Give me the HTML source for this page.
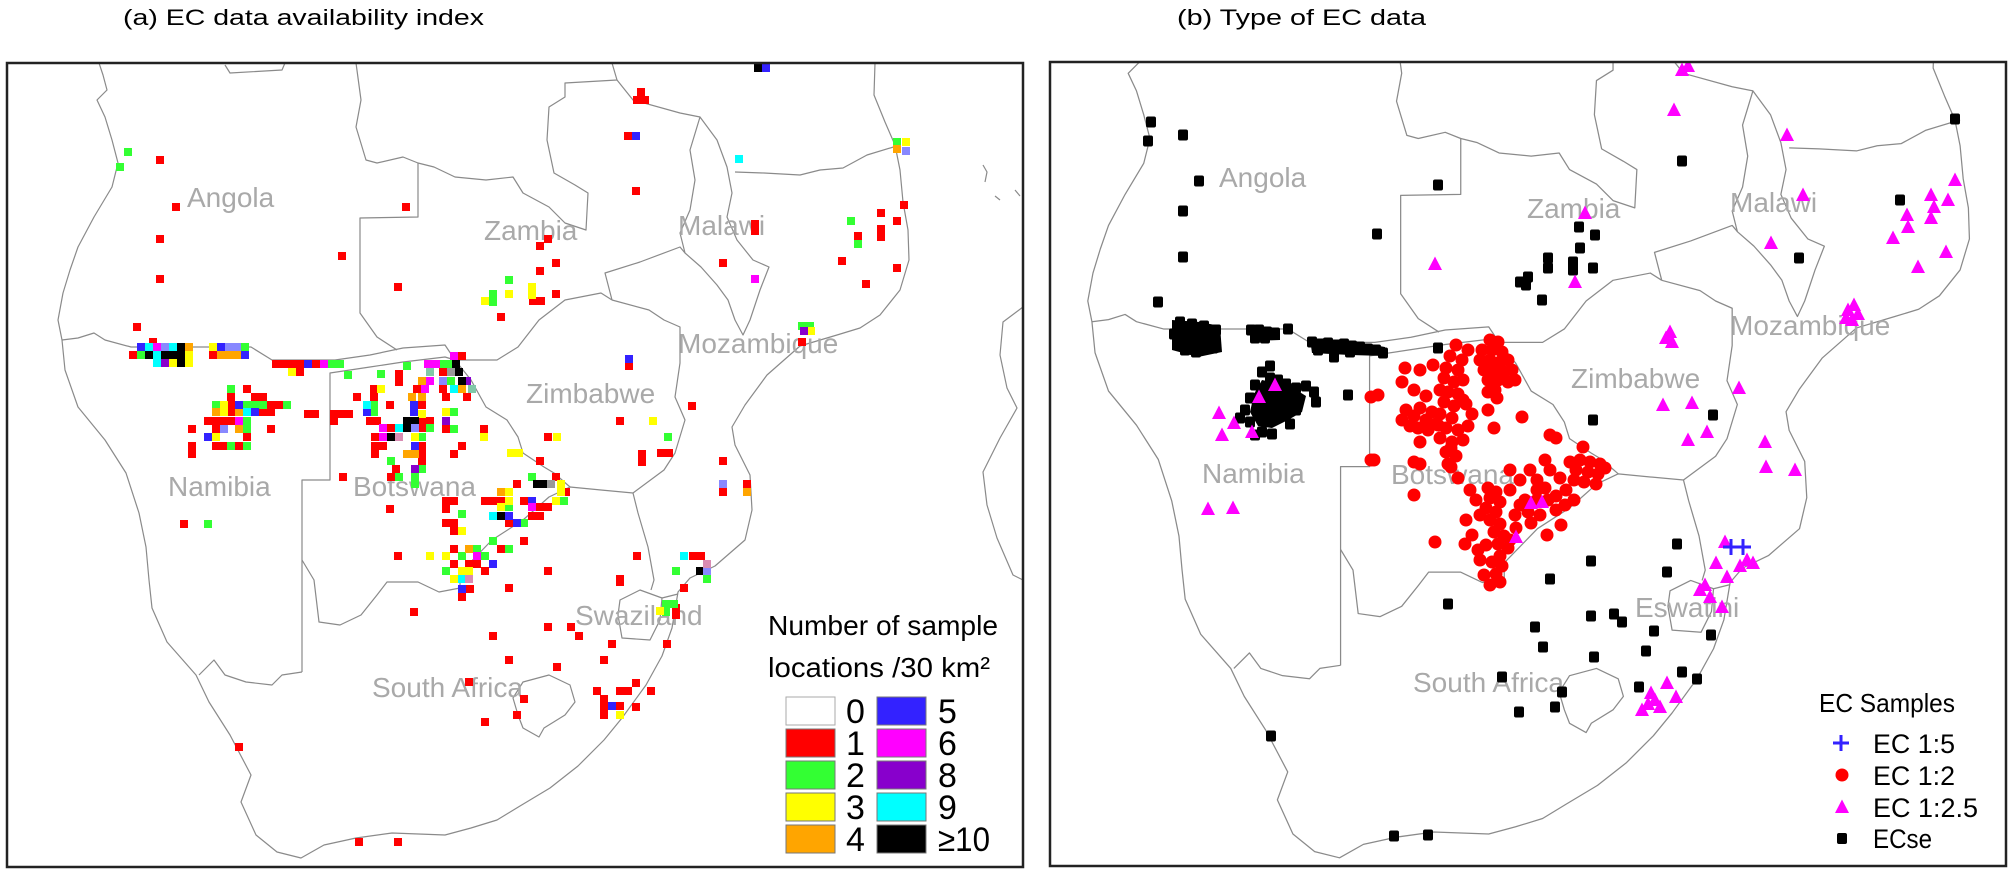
<!DOCTYPE html>
<html><head><meta charset="utf-8"><style>
html,body{margin:0;padding:0;background:#fff;}
svg{display:block;font-family:"Liberation Sans","DejaVu Sans",sans-serif;}
</style></head><body>
<svg xmlns="http://www.w3.org/2000/svg" xmlns:xlink="http://www.w3.org/1999/xlink" width="2010" height="875" viewBox="0 0 2010 875">
<defs>
<clipPath id="cl"><rect x="8" y="64" width="1014" height="802"/></clipPath>
<clipPath id="cr"><rect x="1051" y="63" width="954" height="802"/></clipPath>
<rect id="s" width="8" height="8"/>
<rect id="k" x="-5" y="-5.5" width="10" height="11" rx="2"/>
<path id="t" d="M0,-7.5L7,6L-7,6Z"/>
<g id="map" fill="none" stroke="#8a8a8a" stroke-width="1.2" stroke-linejoin="round">
<polyline points="99,63 103,75 107,90 97,100 105,117 112,140 118,163 112,187 94,217 78,247 70,270 63,293 58,320 62,340 65,370 78,407 105,440 126,473 139,513 146,547 149,580 152,608 167,642 196,675 209,702 230,735 251,775 241,802 256,835 277,852 301,858 324,845 356,838 392,833 445,835 471,828 497,820 520,806 550,788 578,766 604,740 622,718 646,685 662,656 672,628 678,592 690,578 715,566 745,540 752,510 750,475 735,445 732,427 745,405 767,375 800,346 837,335 860,328 880,315 900,290 909,260 908,230 903,202 900,170 895,145 885,122 874,95 875,63"/>
<polyline points="62,340 78,338 94,333 105,340 131,347 251,347 272,360 335,360 370,355 403,348 445,345 455,360"/>
<polyline points="455,360 445,357 403,362 370,367 330,373 330,480 302,480 302,672"/>
<polyline points="302,672 282,675 272,685 246,682 225,675 214,660 199,675"/>
<polyline points="302,560 314,580 319,622 340,625 361,615 377,595 387,582 418,582 439,592 460,588 460,573 492,540 523,520 549,497 570,487 601,490 633,493"/>
<polyline points="455,360 471,380 486,407 507,420 518,437 523,453 544,467 554,473 570,487"/>
<polyline points="455,360 497,360 518,347 539,320 565,300 601,293 612,300"/>
<polyline points="612,300 649,310 664,320 680,327 680,363 675,397 685,420 675,453 664,470 633,493"/>
<polyline points="633,493 638,513 648,547 654,580 651,590"/>
<polygon points="620,600 640,590 662,598 660,620 650,640 622,638 618,615"/>
<polyline points="662,598 678,594"/>
<polygon points="513,698 523,682 549,675 570,685 575,702 565,715 544,728 539,737 523,728 518,715"/>
<polyline points="356,63 361,100 356,127 366,160 377,163 403,157 418,163 418,217 360,218 360,313 377,337 397,350"/>
<polyline points="418,163 434,167 455,177 486,180 513,177 523,193 549,207 565,223 586,230 588,193 575,185 554,173 547,140 549,107 565,97 565,83 617,80 612,63"/>
<polyline points="617,80 633,100 680,113 700,117"/>
<polygon points="700,117 717,140 727,167 732,193 727,217 737,240 753,260 769,267 760,290 750,320 743,335 735,320 728,300 717,285 701,267 685,253 680,233 690,210 695,180 690,150"/>
<polyline points="612,300 605,273 640,262 680,247 685,253"/>
<polyline points="735,172 764,173 800,175 820,170 843,168 867,155 900,145"/>
<polyline points="225,65 230,73 282,70 285,63"/>
<polyline points="1023,307 1003,322 1000,355 1007,388 1017,408 1000,438 983,472 987,505 997,538 1013,575 1023,580"/>
<polyline points="983,165 987,172 985,182"/>
<polyline points="995,196 1000,200"/>
<polyline points="1015,190 1020,196"/>
</g>
</defs>

<rect width="2010" height="875" fill="#fff"/>

<text x="123" y="25" font-size="22" textLength="361" lengthAdjust="spacingAndGlyphs" fill="#000">(a) EC data availability index</text>
<text x="1177" y="25" font-size="22" textLength="249" lengthAdjust="spacingAndGlyphs" fill="#000">(b) Type of EC data</text>

<!-- LEFT PANEL -->
<g clip-path="url(#cl)">
<use xlink:href="#map" href="#map"/>
<g font-size="28" fill="#a9a9a9">
<text x="187" y="207">Angola</text>
<text x="484" y="240">Zambia</text>
<text x="678" y="235">Malawi</text>
<text x="678" y="353">Mozambique</text>
<text x="526" y="403">Zimbabwe</text>
<text x="168" y="496">Namibia</text>
<text x="353" y="496">Botswana</text>
<text x="372" y="697">South Africa</text>
<text x="575" y="625">Swaziland</text>
</g>
<g fill="#ff0000">
<use href="#s" x="156" y="156"/><use href="#s" x="172" y="203"/><use href="#s" x="156" y="235"/><use href="#s" x="156" y="275"/><use href="#s" x="402" y="203"/><use href="#s" x="338" y="252"/><use href="#s" x="394" y="283"/><use href="#s" x="637" y="88"/><use href="#s" x="633" y="96"/><use href="#s" x="641" y="96"/><use href="#s" x="624" y="132"/><use href="#s" x="632" y="187"/><use href="#s" x="751" y="220"/><use href="#s" x="751" y="227"/><use href="#s" x="544" y="235"/><use href="#s" x="536" y="242"/><use href="#s" x="719" y="259"/><use href="#s" x="552" y="259"/><use href="#s" x="536" y="267"/><use href="#s" x="552" y="290"/><use href="#s" x="529" y="297"/><use href="#s" x="537" y="297"/><use href="#s" x="497" y="313"/>
<use href="#s" x="133" y="323"/><use href="#s" x="149" y="338"/><use href="#s" x="129" y="351"/><use href="#s" x="209" y="351"/>
<use href="#s" x="272" y="360"/><use href="#s" x="280" y="360"/><use href="#s" x="288" y="360"/><use href="#s" x="296" y="360"/><use href="#s" x="312" y="360"/><use href="#s" x="296" y="368"/>
<use href="#s" x="458" y="352"/><use href="#s" x="439" y="368"/><use href="#s" x="413" y="385"/><use href="#s" x="439" y="385"/><use href="#s" x="442" y="393"/><use href="#s" x="463" y="393"/><use href="#s" x="395" y="370"/><use href="#s" x="395" y="378"/>
<use href="#s" x="370" y="385"/><use href="#s" x="353" y="393"/><use href="#s" x="370" y="393"/><use href="#s" x="386" y="401"/><use href="#s" x="418" y="401"/><use href="#s" x="366" y="417"/><use href="#s" x="373" y="417"/><use href="#s" x="418" y="417"/><use href="#s" x="426" y="417"/><use href="#s" x="387" y="424"/><use href="#s" x="418" y="424"/><use href="#s" x="442" y="425"/><use href="#s" x="371" y="433"/><use href="#s" x="371" y="442"/><use href="#s" x="379" y="442"/><use href="#s" x="418" y="442"/><use href="#s" x="458" y="442"/><use href="#s" x="371" y="450"/><use href="#s" x="418" y="450"/><use href="#s" x="450" y="450"/><use href="#s" x="418" y="457"/><use href="#s" x="392" y="465"/><use href="#s" x="387" y="473"/>
<use href="#s" x="243" y="385"/><use href="#s" x="227" y="393"/><use href="#s" x="251" y="393"/><use href="#s" x="259" y="393"/><use href="#s" x="227" y="401"/><use href="#s" x="267" y="401"/><use href="#s" x="275" y="401"/><use href="#s" x="227" y="408"/><use href="#s" x="259" y="408"/><use href="#s" x="267" y="408"/><use href="#s" x="204" y="417"/><use href="#s" x="212" y="417"/><use href="#s" x="220" y="417"/><use href="#s" x="227" y="417"/><use href="#s" x="188" y="425"/><use href="#s" x="212" y="425"/><use href="#s" x="267" y="425"/><use href="#s" x="243" y="433"/><use href="#s" x="188" y="442"/><use href="#s" x="212" y="442"/><use href="#s" x="220" y="442"/><use href="#s" x="235" y="442"/><use href="#s" x="188" y="450"/>
<use href="#s" x="304" y="410"/><use href="#s" x="311" y="410"/><use href="#s" x="330" y="410"/><use href="#s" x="337" y="410"/><use href="#s" x="345" y="410"/><use href="#s" x="330" y="417"/><use href="#s" x="339" y="473"/><use href="#s" x="386" y="505"/><use href="#s" x="180" y="520"/>
<use href="#s" x="552" y="473"/><use href="#s" x="513" y="480"/><use href="#s" x="562" y="488"/><use href="#s" x="481" y="497"/><use href="#s" x="489" y="497"/><use href="#s" x="497" y="497"/><use href="#s" x="520" y="497"/><use href="#s" x="442" y="497"/><use href="#s" x="450" y="497"/><use href="#s" x="536" y="503"/><use href="#s" x="544" y="503"/><use href="#s" x="528" y="512"/><use href="#s" x="536" y="512"/><use href="#s" x="442" y="505"/><use href="#s" x="505" y="519"/><use href="#s" x="442" y="519"/><use href="#s" x="450" y="519"/><use href="#s" x="450" y="527"/><use href="#s" x="520" y="537"/><use href="#s" x="497" y="545"/><use href="#s" x="450" y="545"/><use href="#s" x="465" y="560"/><use href="#s" x="473" y="560"/><use href="#s" x="450" y="560"/><use href="#s" x="481" y="567"/><use href="#s" x="466" y="585"/><use href="#s" x="458" y="593"/>
<use href="#s" x="625" y="362"/><use href="#s" x="688" y="402"/><use href="#s" x="616" y="417"/><use href="#s" x="638" y="450"/><use href="#s" x="638" y="458"/><use href="#s" x="657" y="449"/><use href="#s" x="665" y="449"/><use href="#s" x="719" y="457"/><use href="#s" x="719" y="488"/><use href="#s" x="743" y="480"/><use href="#s" x="798" y="338"/><use href="#s" x="480" y="425"/><use href="#s" x="544" y="433"/><use href="#s" x="536" y="457"/><use href="#s" x="394" y="552"/><use href="#s" x="633" y="552"/><use href="#s" x="544" y="567"/><use href="#s" x="616" y="575"/><use href="#s" x="689" y="552"/><use href="#s" x="697" y="552"/>
<use href="#s" x="505" y="584"/><use href="#s" x="616" y="578"/><use href="#s" x="680" y="584"/><use href="#s" x="672" y="604"/><use href="#s" x="672" y="611"/><use href="#s" x="410" y="608"/><use href="#s" x="489" y="632"/><use href="#s" x="544" y="623"/><use href="#s" x="567" y="623"/><use href="#s" x="575" y="632"/><use href="#s" x="608" y="640"/><use href="#s" x="663" y="640"/><use href="#s" x="505" y="656"/><use href="#s" x="553" y="663"/><use href="#s" x="600" y="656"/><use href="#s" x="465" y="678"/><use href="#s" x="520" y="695"/><use href="#s" x="513" y="711"/><use href="#s" x="481" y="718"/><use href="#s" x="593" y="687"/><use href="#s" x="616" y="687"/><use href="#s" x="624" y="687"/><use href="#s" x="632" y="679"/><use href="#s" x="647" y="687"/><use href="#s" x="600" y="695"/><use href="#s" x="600" y="703"/><use href="#s" x="600" y="711"/><use href="#s" x="616" y="702"/><use href="#s" x="632" y="703"/><use href="#s" x="235" y="743"/><use href="#s" x="355" y="838"/><use href="#s" x="394" y="838"/>
<use href="#s" x="900" y="201"/><use href="#s" x="877" y="209"/><use href="#s" x="893" y="217"/><use href="#s" x="854" y="232"/><use href="#s" x="877" y="225"/><use href="#s" x="877" y="233"/><use href="#s" x="838" y="257"/><use href="#s" x="893" y="264"/><use href="#s" x="862" y="280"/>
</g>
<g fill="#33ff33">
<use href="#s" x="124" y="148"/><use href="#s" x="116" y="163"/><use href="#s" x="505" y="276"/><use href="#s" x="489" y="290"/><use href="#s" x="489" y="298"/><use href="#s" x="241" y="343"/><use href="#s" x="137" y="351"/><use href="#s" x="328" y="360"/><use href="#s" x="336" y="360"/><use href="#s" x="344" y="371"/><use href="#s" x="403" y="362"/><use href="#s" x="377" y="370"/><use href="#s" x="439" y="360"/><use href="#s" x="447" y="360"/><use href="#s" x="447" y="377"/><use href="#s" x="370" y="401"/><use href="#s" x="370" y="408"/><use href="#s" x="450" y="408"/><use href="#s" x="426" y="424"/><use href="#s" x="418" y="433"/><use href="#s" x="450" y="425"/><use href="#s" x="387" y="457"/><use href="#s" x="418" y="465"/><use href="#s" x="395" y="473"/><use href="#s" x="411" y="473"/><use href="#s" x="411" y="480"/><use href="#s" x="227" y="385"/><use href="#s" x="212" y="401"/><use href="#s" x="243" y="401"/><use href="#s" x="251" y="401"/><use href="#s" x="259" y="401"/><use href="#s" x="283" y="401"/><use href="#s" x="243" y="417"/><use href="#s" x="243" y="425"/><use href="#s" x="227" y="442"/><use href="#s" x="243" y="442"/><use href="#s" x="664" y="433"/><use href="#s" x="528" y="473"/><use href="#s" x="560" y="497"/><use href="#s" x="505" y="503"/><use href="#s" x="458" y="510"/><use href="#s" x="520" y="519"/><use href="#s" x="489" y="537"/><use href="#s" x="505" y="545"/><use href="#s" x="473" y="545"/><use href="#s" x="458" y="552"/><use href="#s" x="481" y="552"/><use href="#s" x="442" y="567"/><use href="#s" x="204" y="520"/><use href="#s" x="672" y="567"/><use href="#s" x="703" y="575"/><use href="#s" x="662" y="600"/><use href="#s" x="670" y="600"/><use href="#s" x="662" y="608"/><use href="#s" x="893" y="138"/><use href="#s" x="847" y="217"/><use href="#s" x="854" y="240"/><use href="#s" x="798" y="322"/><use href="#s" x="806" y="322"/>
</g>
<g fill="#ffff00">
<use href="#s" x="505" y="290"/><use href="#s" x="481" y="297"/><use href="#s" x="528" y="283"/><use href="#s" x="528" y="291"/><use href="#s" x="209" y="343"/><use href="#s" x="185" y="351"/><use href="#s" x="169" y="359"/><use href="#s" x="185" y="359"/><use href="#s" x="288" y="368"/><use href="#s" x="377" y="385"/><use href="#s" x="418" y="410"/><use href="#s" x="442" y="408"/><use href="#s" x="411" y="433"/><use href="#s" x="220" y="401"/><use href="#s" x="220" y="408"/><use href="#s" x="212" y="433"/><use href="#s" x="649" y="417"/><use href="#s" x="480" y="433"/><use href="#s" x="553" y="433"/><use href="#s" x="507" y="449"/><use href="#s" x="515" y="449"/><use href="#s" x="557" y="480"/><use href="#s" x="505" y="488"/><use href="#s" x="557" y="488"/><use href="#s" x="505" y="497"/><use href="#s" x="552" y="497"/><use href="#s" x="497" y="503"/><use href="#s" x="458" y="527"/><use href="#s" x="442" y="552"/><use href="#s" x="458" y="567"/><use href="#s" x="465" y="567"/><use href="#s" x="450" y="575"/><use href="#s" x="656" y="607"/><use href="#s" x="616" y="711"/><use href="#s" x="426" y="552"/><use href="#s" x="902" y="138"/><use href="#s" x="807" y="327"/>
</g>
<g fill="#ffa500">
<use href="#s" x="185" y="343"/><use href="#s" x="217" y="351"/><use href="#s" x="225" y="351"/><use href="#s" x="233" y="351"/><use href="#s" x="418" y="377"/><use href="#s" x="458" y="385"/><use href="#s" x="408" y="393"/><use href="#s" x="418" y="393"/><use href="#s" x="212" y="408"/><use href="#s" x="235" y="408"/><use href="#s" x="235" y="425"/><use href="#s" x="403" y="450"/><use href="#s" x="411" y="450"/><use href="#s" x="497" y="488"/><use href="#s" x="465" y="545"/><use href="#s" x="743" y="488"/><use href="#s" x="893" y="145"/>
</g>
<g fill="#3322ff">
<use href="#s" x="137" y="343"/><use href="#s" x="217" y="343"/><use href="#s" x="241" y="351"/><use href="#s" x="304" y="360"/><use href="#s" x="410" y="401"/><use href="#s" x="363" y="408"/><use href="#s" x="410" y="408"/><use href="#s" x="411" y="442"/><use href="#s" x="235" y="401"/><use href="#s" x="251" y="408"/><use href="#s" x="204" y="433"/><use href="#s" x="528" y="497"/><use href="#s" x="505" y="512"/><use href="#s" x="513" y="519"/><use href="#s" x="489" y="560"/><use href="#s" x="458" y="585"/><use href="#s" x="608" y="702"/><use href="#s" x="632" y="132"/><use href="#s" x="625" y="355"/><use href="#s" x="762" y="64"/>
</g>
<g fill="#ff00ff">
<use href="#s" x="153" y="343"/><use href="#s" x="320" y="360"/><use href="#s" x="450" y="352"/><use href="#s" x="424" y="360"/><use href="#s" x="432" y="360"/><use href="#s" x="426" y="377"/><use href="#s" x="421" y="385"/><use href="#s" x="379" y="424"/><use href="#s" x="379" y="433"/><use href="#s" x="235" y="417"/><use href="#s" x="528" y="503"/><use href="#s" x="473" y="552"/><use href="#s" x="751" y="275"/>
</g>
<g fill="#8800cc">
<use href="#s" x="161" y="359"/><use href="#s" x="442" y="417"/><use href="#s" x="463" y="377"/><use href="#s" x="411" y="465"/><use href="#s" x="800" y="327"/>
</g>
<g fill="#00ffff">
<use href="#s" x="145" y="343"/><use href="#s" x="169" y="343"/><use href="#s" x="153" y="351"/><use href="#s" x="153" y="359"/><use href="#s" x="363" y="401"/><use href="#s" x="395" y="424"/><use href="#s" x="450" y="385"/><use href="#s" x="243" y="408"/><use href="#s" x="489" y="512"/><use href="#s" x="458" y="575"/><use href="#s" x="735" y="155"/><use href="#s" x="680" y="552"/>
</g>
<g fill="#000">
<use href="#s" x="177" y="343"/><use href="#s" x="145" y="351"/><use href="#s" x="161" y="351"/><use href="#s" x="169" y="351"/><use href="#s" x="177" y="351"/><use href="#s" x="177" y="359"/><use href="#s" x="455" y="368"/><use href="#s" x="458" y="377"/><use href="#s" x="452" y="360"/><use href="#s" x="403" y="417"/><use href="#s" x="411" y="417"/><use href="#s" x="403" y="424"/><use href="#s" x="387" y="433"/><use href="#s" x="533" y="480"/><use href="#s" x="541" y="480"/><use href="#s" x="497" y="512"/><use href="#s" x="696" y="567"/><use href="#s" x="754" y="64"/>
</g>
<g fill="#8888ff">
<use href="#s" x="161" y="343"/><use href="#s" x="225" y="343"/><use href="#s" x="233" y="343"/><use href="#s" x="439" y="377"/><use href="#s" x="411" y="424"/><use href="#s" x="220" y="425"/><use href="#s" x="719" y="480"/><use href="#s" x="902" y="147"/><use href="#s" x="703" y="567"/>
</g>
<g fill="#999"><use href="#s" x="447" y="368"/><use href="#s" x="547" y="480"/></g>
<g fill="#d98cb3"><use href="#s" x="395" y="433"/><use href="#s" x="465" y="575"/><use href="#s" x="703" y="560"/></g>
<g fill="#80c8a8"><use href="#s" x="426" y="368"/><use href="#s" x="468" y="385"/></g>
</g>

<!-- left legend -->
<text x="768" y="635" font-size="28" fill="#000" textLength="230" lengthAdjust="spacingAndGlyphs">Number of sample</text>
<text x="768" y="677" font-size="28" fill="#000" textLength="222" lengthAdjust="spacingAndGlyphs">locations /30 km²</text>
<g stroke="#777" stroke-width="1">
<rect x="786" y="697" width="49" height="28" fill="#fff" stroke="#aaa"/>
<rect x="786" y="729" width="49" height="28" fill="#ff0000"/>
<rect x="786" y="761" width="49" height="28" fill="#33ff33"/>
<rect x="786" y="793" width="49" height="28" fill="#ffff00"/>
<rect x="786" y="825" width="49" height="28" fill="#ffa500"/>
<rect x="877" y="697" width="49" height="28" fill="#3322ff"/>
<rect x="877" y="729" width="49" height="28" fill="#ff00ff"/>
<rect x="877" y="761" width="49" height="28" fill="#8800cc"/>
<rect x="877" y="793" width="49" height="28" fill="#00ffff"/>
<rect x="877" y="825" width="49" height="28" fill="#000"/>
</g>
<g font-size="34" fill="#000">
<text x="846" y="723">0</text><text x="846" y="755">1</text><text x="846" y="787">2</text><text x="846" y="819">3</text><text x="846" y="851">4</text>
<text x="938" y="723">5</text><text x="938" y="755">6</text><text x="938" y="787">8</text><text x="938" y="819">9</text><text x="938" y="851" textLength="52" lengthAdjust="spacingAndGlyphs">≥10</text>
</g>
<rect x="7" y="63" width="1016" height="804" fill="none" stroke="#222" stroke-width="2.5"/>

<!-- RIGHT PANEL -->
<g clip-path="url(#cr)">
<g transform="matrix(1.036,0,0,1.035,1027.7,-30.2)"><use href="#map" xlink:href="#map"/></g>
<g font-size="28" fill="#a9a9a9">
<text x="1219" y="187">Angola</text>
<text x="1527" y="218">Zambia</text>
<text x="1730" y="212">Malawi</text>
<text x="1730" y="335">Mozambique</text>
<text x="1571" y="388">Zimbabwe</text>
<text x="1202" y="483">Namibia</text>
<text x="1391" y="484">Botswana</text>
<text x="1413" y="692">South Africa</text>
<text x="1635" y="617">Eswatini</text>
</g>
<g fill="#000">
<polygon points="1262,380 1290,386 1306,396 1302,412 1288,420 1272,428 1258,426 1250,412 1254,394"/>
<polygon points="1172,320 1200,322 1220,326 1222,352 1198,357 1172,350"/>
<polygon points="1250,327 1280,329 1280,340 1250,341"/>
<polygon points="1310,339 1350,341 1385,347 1385,356 1350,355 1312,353"/>
<use href="#k" x="1151" y="122"/><use href="#k" x="1148" y="141"/><use href="#k" x="1183" y="135"/><use href="#k" x="1199" y="181"/><use href="#k" x="1183" y="211"/><use href="#k" x="1183" y="257"/><use href="#k" x="1158" y="302"/><use href="#k" x="1377" y="234"/><use href="#k" x="1438" y="185"/><use href="#k" x="1682" y="161"/><use href="#k" x="1955" y="119"/><use href="#k" x="1900" y="200"/><use href="#k" x="1799" y="258"/>
<use href="#k" x="1579" y="227"/><use href="#k" x="1595" y="235"/><use href="#k" x="1580" y="248"/><use href="#k" x="1548" y="258"/><use href="#k" x="1548" y="268"/><use href="#k" x="1573" y="262"/><use href="#k" x="1573" y="270"/><use href="#k" x="1593" y="268"/><use href="#k" x="1528" y="277"/><use href="#k" x="1520" y="282"/><use href="#k" x="1526" y="285"/><use href="#k" x="1542" y="300"/>
<use href="#k" x="1180" y="322"/><use href="#k" x="1192" y="324"/><use href="#k" x="1204" y="326"/><use href="#k" x="1216" y="330"/><use href="#k" x="1174" y="334"/><use href="#k" x="1184" y="334"/><use href="#k" x="1194" y="334"/><use href="#k" x="1204" y="336"/><use href="#k" x="1214" y="338"/><use href="#k" x="1178" y="344"/><use href="#k" x="1190" y="344"/><use href="#k" x="1202" y="346"/><use href="#k" x="1213" y="348"/><use href="#k" x="1196" y="352"/><use href="#k" x="1185" y="350"/>
<use href="#k" x="1251" y="330"/><use href="#k" x="1259" y="330"/><use href="#k" x="1267" y="332"/><use href="#k" x="1275" y="333"/><use href="#k" x="1255" y="338"/><use href="#k" x="1265" y="338"/><use href="#k" x="1288" y="329"/>
<use href="#k" x="1312" y="342"/><use href="#k" x="1320" y="344"/><use href="#k" x="1328" y="343"/><use href="#k" x="1336" y="345"/><use href="#k" x="1344" y="344"/><use href="#k" x="1352" y="346"/><use href="#k" x="1360" y="347"/><use href="#k" x="1368" y="349"/><use href="#k" x="1376" y="350"/><use href="#k" x="1383" y="353"/><use href="#k" x="1318" y="350"/><use href="#k" x="1334" y="357"/><use href="#k" x="1350" y="352"/><use href="#k" x="1438" y="348"/>
<use href="#k" x="1262" y="372"/><use href="#k" x="1270" y="378"/><use href="#k" x="1278" y="380"/><use href="#k" x="1286" y="384"/><use href="#k" x="1296" y="388"/><use href="#k" x="1306" y="386"/><use href="#k" x="1314" y="392"/><use href="#k" x="1255" y="385"/><use href="#k" x="1250" y="398"/><use href="#k" x="1245" y="410"/><use href="#k" x="1250" y="422"/><use href="#k" x="1262" y="432"/><use href="#k" x="1272" y="434"/><use href="#k" x="1255" y="435"/><use href="#k" x="1240" y="418"/><use href="#k" x="1296" y="410"/><use href="#k" x="1316" y="402"/><use href="#k" x="1290" y="424"/><use href="#k" x="1270" y="366"/>
<use href="#k" x="1348" y="395"/><use href="#k" x="1713" y="415"/><use href="#k" x="1593" y="420"/>
<use href="#k" x="1677" y="544"/><use href="#k" x="1591" y="561"/><use href="#k" x="1667" y="572"/><use href="#k" x="1550" y="579"/><use href="#k" x="1448" y="604"/><use href="#k" x="1591" y="616"/><use href="#k" x="1614" y="614"/><use href="#k" x="1622" y="622"/><use href="#k" x="1535" y="627"/><use href="#k" x="1654" y="631"/><use href="#k" x="1711" y="635"/><use href="#k" x="1543" y="647"/><use href="#k" x="1646" y="651"/><use href="#k" x="1594" y="657"/><use href="#k" x="1682" y="672"/><use href="#k" x="1697" y="679"/><use href="#k" x="1639" y="687"/><use href="#k" x="1562" y="692"/><use href="#k" x="1555" y="707"/><use href="#k" x="1519" y="712"/><use href="#k" x="1502" y="677"/><use href="#k" x="1271" y="736"/><use href="#k" x="1394" y="836"/><use href="#k" x="1428" y="835"/>
</g>
<g fill="#ff0000">
<circle cx="1490" cy="340" r="6.5"/><circle cx="1498" cy="342" r="6.5"/><circle cx="1482" cy="350" r="6.5"/><circle cx="1492" cy="350" r="6.5"/><circle cx="1502" cy="352" r="6.5"/><circle cx="1480" cy="360" r="6.5"/><circle cx="1490" cy="360" r="6.5"/><circle cx="1500" cy="362" r="6.5"/><circle cx="1508" cy="360" r="6.5"/><circle cx="1484" cy="370" r="6.5"/><circle cx="1494" cy="370" r="6.5"/><circle cx="1504" cy="372" r="6.5"/><circle cx="1512" cy="370" r="6.5"/><circle cx="1488" cy="380" r="6.5"/><circle cx="1498" cy="380" r="6.5"/><circle cx="1508" cy="382" r="6.5"/><circle cx="1495" cy="390" r="6.5"/><circle cx="1515" cy="380" r="6.5"/>
<circle cx="1456" cy="345" r="6.5"/><circle cx="1468" cy="350" r="6.5"/><circle cx="1450" cy="356" r="6.5"/><circle cx="1462" cy="360" r="6.5"/><circle cx="1446" cy="368" r="6.5"/><circle cx="1458" cy="370" r="6.5"/><circle cx="1444" cy="378" r="6.5"/><circle cx="1454" cy="382" r="6.5"/><circle cx="1448" cy="392" r="6.5"/><circle cx="1458" cy="394" r="6.5"/><circle cx="1444" cy="402" r="6.5"/><circle cx="1454" cy="406" r="6.5"/><circle cx="1440" cy="414" r="6.5"/><circle cx="1452" cy="418" r="6.5"/><circle cx="1446" cy="428" r="6.5"/><circle cx="1458" cy="430" r="6.5"/><circle cx="1440" cy="438" r="6.5"/><circle cx="1452" cy="442" r="6.5"/><circle cx="1446" cy="452" r="6.5"/><circle cx="1456" cy="456" r="6.5"/><circle cx="1448" cy="464" r="6.5"/><circle cx="1463" cy="380" r="6.5"/><circle cx="1463" cy="400" r="6.5"/><circle cx="1463" cy="440" r="6.5"/><circle cx="1440" cy="390" r="6.5"/><circle cx="1438" cy="425" r="6.5"/>
<circle cx="1406" cy="410" r="6.5"/><circle cx="1414" cy="416" r="6.5"/><circle cx="1420" cy="408" r="6.5"/><circle cx="1426" cy="420" r="6.5"/><circle cx="1432" cy="412" r="6.5"/><circle cx="1418" cy="428" r="6.5"/><circle cx="1428" cy="430" r="6.5"/><circle cx="1436" cy="424" r="6.5"/><circle cx="1466" cy="404" r="6.5"/><circle cx="1472" cy="414" r="6.5"/><circle cx="1468" cy="426" r="6.5"/><circle cx="1410" cy="426" r="6.5"/><circle cx="1402" cy="420" r="6.5"/>
<circle cx="1371" cy="397" r="6.5"/><circle cx="1378" cy="395" r="6.5"/><circle cx="1402" cy="382" r="6.5"/><circle cx="1405" cy="368" r="6.5"/><circle cx="1420" cy="370" r="6.5"/><circle cx="1433" cy="365" r="6.5"/><circle cx="1414" cy="390" r="6.5"/><circle cx="1426" cy="396" r="6.5"/><circle cx="1497" cy="398" r="6.5"/><circle cx="1488" cy="392" r="6.5"/><circle cx="1522" cy="417" r="6.5"/><circle cx="1494" cy="428" r="6.5"/><circle cx="1550" cy="435" r="6.5"/><circle cx="1583" cy="447" r="6.5"/><circle cx="1556" cy="438" r="6.5"/><circle cx="1451" cy="448" r="6.5"/><circle cx="1420" cy="442" r="6.5"/><circle cx="1414" cy="462" r="6.5"/><circle cx="1371" cy="460" r="6.5"/><circle cx="1488" cy="410" r="6.5"/>
<circle cx="1570" cy="462" r="6.5"/><circle cx="1580" cy="460" r="6.5"/><circle cx="1590" cy="462" r="6.5"/><circle cx="1600" cy="464" r="6.5"/><circle cx="1576" cy="470" r="6.5"/><circle cx="1588" cy="472" r="6.5"/><circle cx="1598" cy="474" r="6.5"/><circle cx="1605" cy="468" r="6.5"/><circle cx="1584" cy="482" r="6.5"/><circle cx="1596" cy="484" r="6.5"/><circle cx="1574" cy="480" r="6.5"/>
<circle cx="1537" cy="480" r="6.5"/><circle cx="1537" cy="490" r="6.5"/><circle cx="1537" cy="500" r="6.5"/><circle cx="1545" cy="488" r="6.5"/><circle cx="1556" cy="496" r="6.5"/><circle cx="1566" cy="490" r="6.5"/><circle cx="1525" cy="500" r="6.5"/><circle cx="1574" cy="500" r="6.5"/><circle cx="1556" cy="510" r="6.5"/><circle cx="1531" cy="523" r="6.5"/><circle cx="1561" cy="525" r="6.5"/><circle cx="1547" cy="535" r="6.5"/><circle cx="1540" cy="515" r="6.5"/>
<circle cx="1488" cy="488" r="6.5"/><circle cx="1496" cy="492" r="6.5"/><circle cx="1490" cy="498" r="6.5"/><circle cx="1500" cy="502" r="6.5"/><circle cx="1486" cy="508" r="6.5"/><circle cx="1496" cy="512" r="6.5"/><circle cx="1490" cy="520" r="6.5"/><circle cx="1500" cy="524" r="6.5"/><circle cx="1494" cy="532" r="6.5"/><circle cx="1504" cy="536" r="6.5"/><circle cx="1498" cy="544" r="6.5"/><circle cx="1508" cy="548" r="6.5"/><circle cx="1500" cy="556" r="6.5"/><circle cx="1492" cy="562" r="6.5"/><circle cx="1502" cy="566" r="6.5"/><circle cx="1496" cy="574" r="6.5"/><circle cx="1500" cy="582" r="6.5"/><circle cx="1486" cy="545" r="6.5"/><circle cx="1478" cy="550" r="6.5"/><circle cx="1510" cy="540" r="6.5"/><circle cx="1516" cy="528" r="6.5"/>
<circle cx="1414" cy="495" r="6.5"/><circle cx="1435" cy="542" r="6.5"/><circle cx="1465" cy="544" r="6.5"/><circle cx="1374" cy="460" r="6.5"/><circle cx="1420" cy="464" r="6.5"/><circle cx="1451" cy="467" r="6.5"/><circle cx="1458" cy="478" r="6.5"/><circle cx="1470" cy="490" r="6.5"/><circle cx="1476" cy="500" r="6.5"/><circle cx="1480" cy="515" r="6.5"/><circle cx="1466" cy="520" r="6.5"/><circle cx="1472" cy="535" r="6.5"/><circle cx="1480" cy="560" r="6.5"/><circle cx="1484" cy="575" r="6.5"/><circle cx="1490" cy="585" r="6.5"/>
<circle cx="1510" cy="470" r="6.5"/><circle cx="1520" cy="480" r="6.5"/><circle cx="1530" cy="470" r="6.5"/><circle cx="1550" cy="470" r="6.5"/><circle cx="1560" cy="478" r="6.5"/><circle cx="1545" cy="460" r="6.5"/><circle cx="1510" cy="490" r="6.5"/><circle cx="1520" cy="505" r="6.5"/><circle cx="1528" cy="512" r="6.5"/><circle cx="1515" cy="515" r="6.5"/><circle cx="1548" cy="500" r="6.5"/><circle cx="1565" cy="505" r="6.5"/>
</g>
<g fill="#ff00ff">
<use href="#t" x="1682" y="70"/><use href="#t" x="1688" y="66"/><use href="#t" x="1674" y="110"/><use href="#t" x="1787" y="135"/><use href="#t" x="1803" y="195"/><use href="#t" x="1771" y="243"/><use href="#t" x="1955" y="180"/><use href="#t" x="1931" y="195"/><use href="#t" x="1948" y="200"/><use href="#t" x="1907" y="215"/><use href="#t" x="1934" y="207"/><use href="#t" x="1931" y="218"/><use href="#t" x="1908" y="227"/><use href="#t" x="1893" y="238"/><use href="#t" x="1946" y="252"/><use href="#t" x="1918" y="267"/><use href="#t" x="1848" y="310"/><use href="#t" x="1854" y="305"/><use href="#t" x="1858" y="314"/><use href="#t" x="1846" y="318"/><use href="#t" x="1852" y="320"/><use href="#t" x="1670" y="332"/><use href="#t" x="1666" y="338"/><use href="#t" x="1672" y="342"/><use href="#t" x="1739" y="388"/><use href="#t" x="1663" y="405"/><use href="#t" x="1692" y="403"/><use href="#t" x="1688" y="440"/><use href="#t" x="1707" y="432"/><use href="#t" x="1765" y="442"/><use href="#t" x="1435" y="264"/><use href="#t" x="1585" y="213"/><use href="#t" x="1575" y="282"/><use href="#t" x="1275" y="385"/><use href="#t" x="1259" y="397"/><use href="#t" x="1219" y="413"/><use href="#t" x="1234" y="423"/><use href="#t" x="1222" y="435"/><use href="#t" x="1252" y="432"/>
<use href="#t" x="1208" y="509"/><use href="#t" x="1233" y="508"/><use href="#t" x="1766" y="467"/><use href="#t" x="1795" y="470"/><use href="#t" x="1531" y="503"/><use href="#t" x="1542" y="502"/><use href="#t" x="1516" y="537"/><use href="#t" x="1700" y="590"/><use href="#t" x="1710" y="597"/><use href="#t" x="1722" y="607"/><use href="#t" x="1716" y="563"/><use href="#t" x="1727" y="577"/><use href="#t" x="1725" y="542"/><use href="#t" x="1747" y="560"/><use href="#t" x="1753" y="563"/><use href="#t" x="1740" y="566"/><use href="#t" x="1705" y="585"/><use href="#t" x="1651" y="693"/><use href="#t" x="1667" y="683"/><use href="#t" x="1676" y="697"/><use href="#t" x="1642" y="710"/><use href="#t" x="1660" y="707"/><use href="#t" x="1655" y="700"/><use href="#t" x="1648" y="704"/>
</g>
<g stroke="#3322ff" stroke-width="3">
<path d="M1723,547h16M1731,539v16M1735,547h16M1743,539v16"/>
</g>
</g>

<!-- right legend -->
<text x="1819" y="712" font-size="26" fill="#000" textLength="136" lengthAdjust="spacingAndGlyphs">EC Samples</text>
<path d="M1833,743h16M1841,735v16" stroke="#3322ff" stroke-width="3"/>
<circle cx="1842" cy="775" r="6.5" fill="#ff0000"/>
<use href="#t" x="1842" y="807" fill="#ff00ff"/>
<rect x="1837" y="833" width="10" height="11" rx="2" fill="#000"/>
<g font-size="27" fill="#000">
<text x="1873" y="753" textLength="82" lengthAdjust="spacingAndGlyphs">EC 1:5</text>
<text x="1873" y="785" textLength="82" lengthAdjust="spacingAndGlyphs">EC 1:2</text>
<text x="1873" y="817" textLength="105" lengthAdjust="spacingAndGlyphs">EC 1:2.5</text>
<text x="1873" y="848" textLength="59" lengthAdjust="spacingAndGlyphs">ECse</text>
</g>
<rect x="1050" y="62" width="956" height="804" fill="none" stroke="#222" stroke-width="2.5"/>
</svg>
</body></html>
